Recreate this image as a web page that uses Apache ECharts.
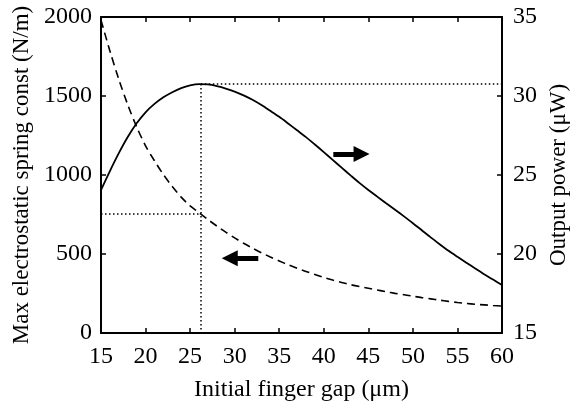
<!DOCTYPE html>
<html><head><meta charset="utf-8">
<script src="https://cdn.jsdelivr.net/npm/echarts@6/dist/echarts.min.js"></script>
<style>html,body{margin:0;padding:0;background:#fff;overflow:hidden}#c{width:573px;height:412px}</style>
</head><body><div id="c"></div>
<script>
const gap = [15,16,17,18,19,20,21,22,23,24,25,26,27,28,29,30,31,32,33,34,35,36,37,38,39,40,41,42,43,44,45,46,47,48,49,50,51,52,53,54,55,56,57,58,59,60];
const power = [24.05,25.25,26.38,27.4,28.27,28.97,29.5,29.92,30.24,30.5,30.67,30.75,30.73,30.62,30.47,30.28,30.04,29.76,29.43,29.06,28.68,28.26,27.83,27.4,26.93,26.45,25.96,25.47,24.98,24.5,24.05,23.63,23.21,22.8,22.38,21.95,21.5,21.05,20.62,20.2,19.82,19.45,19.08,18.72,18.38,18.04];
const spring = [1980,1785,1605,1445,1305,1185,1090,1003,927,860,805,762,718,677,638,602,568,537,508,481,456,432,410,390,370,352,335,320,306,294,283,272,261,251,242,233,224,216,208,200,193,187,182,178,174,171];
const optGap = 26.2, optPower = 30.76, optSpring = 753;
const leftArrow = [[32.65,473],[29.45,473]];
const rightArrow = [[41.07,26.33],[44.24,26.33]];

const font = 'Liberation Serif';
const black = '#000';
const chart = echarts.init(document.getElementById('c'), null, {renderer:'canvas'});
const lbl = {color:black,fontFamily:font,fontSize:24};
const axisCommon = {
  axisLine:{show:true,lineStyle:{color:black,width:2}},
  axisTick:{show:true,inside:true,length:5,lineStyle:{color:black,width:1.5}},
  splitLine:{show:false},
  nameTextStyle:{color:black,fontFamily:font,fontSize:23}
};
const plain = v => String(v);
chart.setOption({
  animation:false,
  backgroundColor:'#fff',
  grid:{left:101,right:71,top:17,bottom:79,containLabel:false,outerBoundsMode:'none'},
  xAxis:[
    Object.assign({},axisCommon,{type:'value',min:15,max:60,interval:5,position:'bottom',
      name:'Initial finger gap (\u03bcm)',nameLocation:'middle',nameGap:45,
      nameTextStyle:{color:black,fontFamily:font,fontSize:24},
      axisLabel:Object.assign({},lbl,{margin:12,formatter:plain})}),
    Object.assign({},axisCommon,{type:'value',min:15,max:60,interval:5,position:'top',
      axisLabel:{show:false}})
  ],
  yAxis:[
    Object.assign({},axisCommon,{type:'value',min:0,max:2000,interval:500,position:'left',
      name:'Max electrostatic spring const (N/m)',nameLocation:'middle',nameGap:66,
      axisLabel:Object.assign({},lbl,{margin:9,formatter:plain})}),
    Object.assign({},axisCommon,{type:'value',min:15,max:35,interval:5,position:'right',
      name:'Output power (\u03bcW)',nameLocation:'middle',nameGap:41,nameRotate:90,
      axisLabel:Object.assign({},lbl,{margin:11,formatter:plain})})
  ],
  series:[
    {type:'line',xAxisIndex:0,yAxisIndex:1,smooth:0.3,showSymbol:false,
     data:gap.map((g,i)=>[g,power[i]]),
     lineStyle:{color:black,width:1.8},
     markLine:{silent:true,symbol:['none','none'],label:{show:false},
       lineStyle:{color:black,type:[1.5,2.5],width:1.5},
       data:[
         [{coord:[optGap,optPower]},{coord:[60,optPower]}],
         [{coord:[optGap,optPower]},{coord:[optGap,15]}],
         [{coord:rightArrow[0],symbol:'none'},{coord:rightArrow[1],symbol:'triangle',symbolSize:[16,16],lineStyle:{type:'solid',width:5}}]
       ]}
    },
    {type:'line',xAxisIndex:0,yAxisIndex:0,smooth:0.3,showSymbol:false,
     data:gap.map((g,i)=>[g,spring[i]]),
     lineStyle:{color:black,width:1.6,type:[8,5]},
     markLine:{silent:true,symbol:['none','none'],label:{show:false},
       lineStyle:{color:black,type:[1.5,2.5],width:1.5},
       data:[
         [{coord:[15,optSpring]},{coord:[optGap,optSpring]}],
         [{coord:leftArrow[0],symbol:'none'},{coord:leftArrow[1],symbol:'triangle',symbolSize:[16,16],lineStyle:{type:'solid',width:5}}]
       ]}
    }
  ]
});
</script></body></html>
